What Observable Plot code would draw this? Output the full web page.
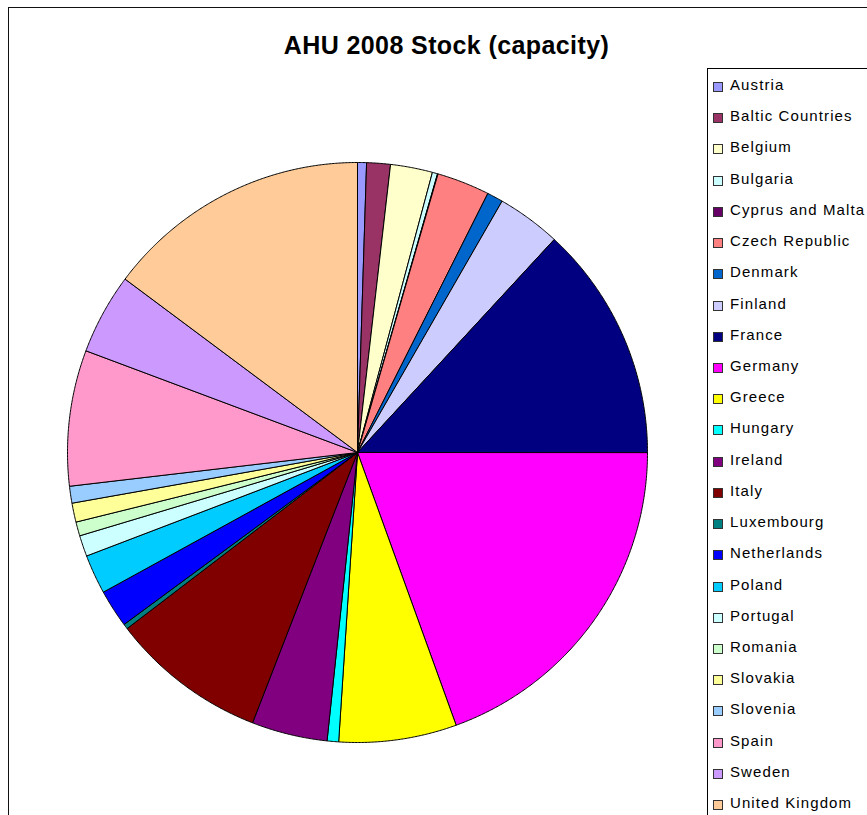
<!DOCTYPE html>
<html>
<head>
<meta charset="utf-8">
<script src="https://cdn.jsdelivr.net/npm/d3@7"></script>
<script src="https://cdn.jsdelivr.net/npm/@observablehq/plot@0.6"></script>
<style>
  html, body { margin: 0; padding: 0; background: #fff; overflow: hidden; width: 867px; height: 815px; }
  #wrap { position: relative; width: 867px; height: 815px; overflow: hidden; font-family: "Liberation Sans", Arial, sans-serif; }
  #frame { position: absolute; left: 8px; top: 7px; width: 1000px; height: 1000px; border-left: 1.5px solid #111; border-top: 1.5px solid #111; }
  #title { position: absolute; left: 0; width: 893px; top: 31px; text-align: center; font-weight: bold; font-size: 25px; letter-spacing: 0.4px; color: #000; }
  #chart { position: absolute; left: 0; top: 0; }
  #legend { position: absolute; left: 707px; top: 68px; width: 300px; height: 900px; border: 1px solid #000; background: #fff; }
  .item { position: absolute; left: 0; height: 20px; font-size: 15px; letter-spacing: 1.1px; color: #000; white-space: nowrap; }
  .sw { position: absolute; left: 5px; width: 8px; height: 8px; border: 1px solid #333; }
  .lab { position: absolute; left: 22px; line-height: 20px; }
</style>
</head>
<body>
<div id="wrap">
  <div id="frame"></div>
  <div id="title">AHU 2008 Stock (capacity)</div>
  <div id="chart"></div>
  <div id="legend"></div>
</div>
<script>
// Data (estimated share of AHU 2008 stock capacity, %)
const countries = ["Austria","Baltic Countries","Belgium","Bulgaria","Cyprus and Malta","Czech Republic","Denmark","Finland","France","Germany","Greece","Hungary","Ireland","Italy","Luxembourg","Netherlands","Poland","Portugal","Romania","Slovakia","Slovenia","Spain","Sweden","United Kingdom"];
const values = [0.50, 1.32, 2.34, 0.29, 0.03, 2.94, 0.89, 3.56, 13.14, 19.47, 6.56, 0.64, 4.22, 8.72, 0.28, 2.11, 2.19, 1.17, 0.78, 1.06, 0.94, 7.56, 4.50, 14.80];
const colors = ["#9999FF","#993366","#FFFFCC","#CCFFFF","#660066","#FF8080","#0066CC","#CCCCFF","#000080","#FF00FF","#FFFF00","#00FFFF","#800080","#800000","#008080","#0000FF","#00CCFF","#CCFFFF","#CCFFCC","#FFFF99","#99CCFF","#FF99CC","#CC99FF","#FFCC99"];

// Build slice outlines from the data via d3.pie (angles clockwise from 12 o'clock)
const arcs = d3.pie().sort(null).value(d => d)(values);
const pts = [];
arcs.forEach((a, i) => {
  const name = countries[i];
  pts.push({name, x: 0, y: 0});
  const n = Math.max(2, Math.ceil((a.endAngle - a.startAngle) / 0.005));
  for (let k = 0; k <= n; k++) {
    const t = a.startAngle + (a.endAngle - a.startAngle) * k / n;
    pts.push({name, x: Math.sin(t), y: Math.cos(t)});
  }
  pts.push({name, x: 0, y: 0});
});

const cx = 357, cy = 452, R = 290, W = 867, H = 815;
const chart = Plot.plot({
  width: W, height: H,
  margin: 0,
  x: {domain: [-cx / R, (W - cx) / R], range: [0, W], axis: null},
  y: {domain: [cy / R, -(H - cy) / R], range: [0, H], axis: null},
  color: {domain: countries, range: colors},
  marks: [
    Plot.line(pts, {x: "x", y: "y", z: "name", fill: "name", stroke: "#000", strokeWidth: 1, strokeLinejoin: "round", curve: "linear"})
  ]
});
chart.style.background = "transparent";
document.getElementById("chart").appendChild(chart);

// Legend
const leg = document.getElementById("legend");
countries.forEach((c, i) => {
  const yc = 84 + i * 31.22 - 68;
  const it = document.createElement("div");
  it.className = "item";
  it.style.top = (yc - 10) + "px";
  const sw = document.createElement("div");
  sw.className = "sw";
  sw.style.top = "7px";
  sw.style.background = colors[i];
  const lab = document.createElement("div");
  lab.className = "lab";
  lab.textContent = c;
  it.appendChild(sw); it.appendChild(lab);
  leg.appendChild(it);
});
</script>
</body>
</html>
